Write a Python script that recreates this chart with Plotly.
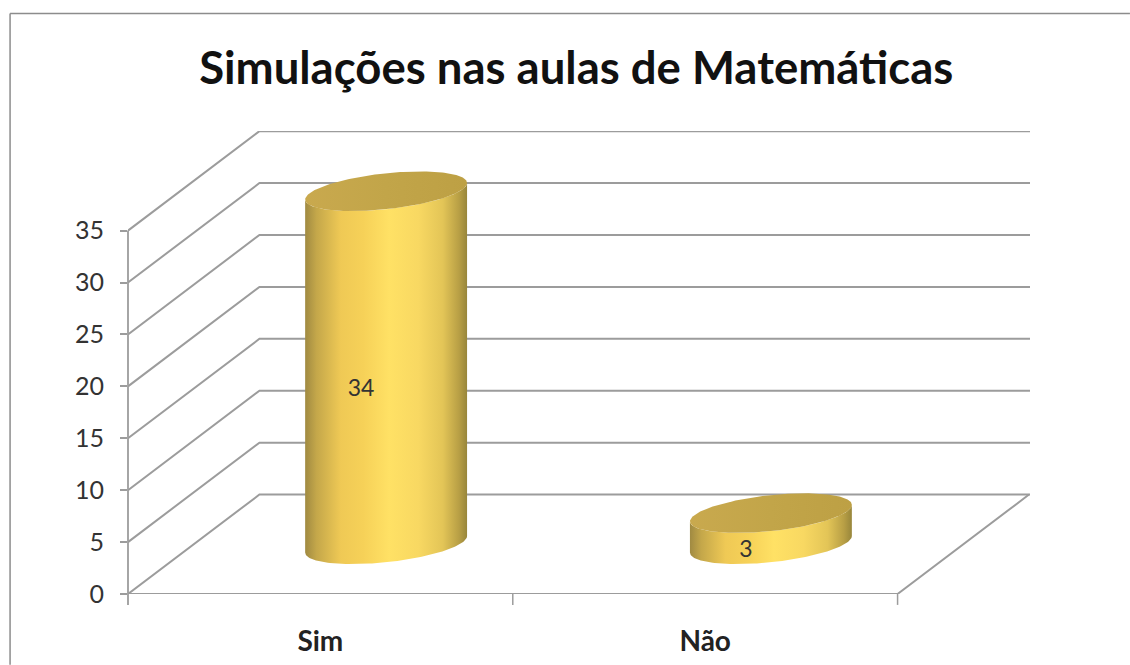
import numpy as np
import plotly.graph_objects as go

categories = ["Sim", "Não"]
values = [34, 3]
y_ticks = [0, 5, 10, 15, 20, 25, 30, 35]
title_text = "Simulações nas aulas de Matemáticas"

W, H = 1130, 665
L, R, T, B = 127.5, 100, 131, 70.7
px_y = (H - T - B) / 44.59
px_x = 385.0
dx = 131.5 / px_x
dy = 99.5 / px_y
x_left, x_right = -0.5, -0.5 + (W - L - R) / px_x
GRID = "#9c9c9c"
FONT = "Lato"


def seg(xs, ys, color=GRID, width=2):
    return go.Scatter(x=xs, y=ys, mode="lines", line=dict(color=color, width=width),
                      cliponaxis=False, hoverinfo="skip", showlegend=False)


fx = lambda px: (px - L) / (W - L - R)
fy = lambda py: (H - B - py) / (H - T - B)
vy = lambda v: v / 44.59
vx = lambda c: (c - x_left) / (x_right - x_left)

fig = go.Figure()
for v in y_ticks:
    fig.add_trace(seg([x_left, x_left + dx, x_right], [v, v + dy, v + dy]))
fig.add_trace(seg([x_left, 1.5, 1.5 + dx], [0, 0, dy]))

t = np.linspace(0, 2 * np.pi, 181)
a, tilt, b = 81 / px_x, 8.3 / px_y, 18 / px_y
body_scale = [[0, "#a08a42"], [0.07, "#c4a74a"], [0.22, "#efc955"], [0.36, "#f6d158"], [0.52, "#ffe165"],
              [0.7, "#f8d862"], [0.85, "#e3c557"], [0.95, "#b89f45"], [1, "#98863b"]]
top_scale = [[0, "#c9a94e"], [0.5, "#c2a549"], [1, "#bda044"]]

for i, v in enumerate(values):
    cx, base = i + dx / 2, dy / 2
    tb = np.linspace(np.pi, 2 * np.pi, 91)
    xb = cx + a * np.cos(tb)
    yb = base + tilt * np.cos(tb) + b * np.sin(tb)
    xt = cx + a * np.cos(tb[::-1])
    yt = base + v + tilt * np.cos(tb[::-1]) + b * np.sin(tb[::-1])
    fig.add_trace(go.Scatter(
        x=np.r_[xb, xt, xb[0]], y=np.r_[yb, yt, yb[0]], mode="lines", fill="toself",
        line=dict(width=0, color="rgba(0,0,0,0)"),
        fillgradient=dict(type="horizontal", colorscale=body_scale),
        cliponaxis=False, hoverinfo="skip", showlegend=False))
    fig.add_trace(go.Scatter(
        x=cx + a * np.cos(t), y=base + v + tilt * np.cos(t) + b * np.sin(t),
        mode="lines", fill="toself", line=dict(width=0, color="rgba(0,0,0,0)"),
        fillgradient=dict(type="horizontal", colorscale=top_scale),
        cliponaxis=False, hoverinfo="skip", showlegend=False))
    fig.add_trace(go.Scatter(
        x=[cx - 0.065], y=[base + v / 2 - 2.2], mode="text", text=[str(v)],
        textfont=dict(family=FONT, size=23, color="#333333"),
        cliponaxis=False, hoverinfo="skip", showlegend=False))

frame_color = "#8c8c8c"
fig.add_shape(type="line", xref="paper", yref="paper", x0=fx(9.5), x1=fx(W), y0=fy(13.5), y1=fy(13.5),
              line=dict(color=frame_color, width=1.5))
fig.add_shape(type="line", xref="paper", yref="paper", x0=fx(9.5), x1=fx(9.5), y0=fy(13.5), y1=fy(H),
              line=dict(color=frame_color, width=1.5))
# value axis line and category boundary ticks
fig.add_shape(type="line", xref="paper", yref="paper", x0=0, x1=0, y0=vy(35), y1=vy(-1.05),
              line=dict(color=GRID, width=1.8))
for c in [0.5, 1.5]:
    fig.add_shape(type="line", xref="paper", yref="paper", x0=vx(c), x1=vx(c), y0=0, y1=vy(-1.05),
                  line=dict(color=GRID, width=1.5))

fig.update_layout(
    width=W, height=H, autosize=False,
    margin=dict(l=L, r=R, t=T, b=B, pad=0, autoexpand=False),
    paper_bgcolor="white", plot_bgcolor="white",
    showlegend=False,
    title=dict(text=f"<b>{title_text}</b>", font=dict(family=FONT, size=45.5, color="#111111"),
               xref="paper", x=fx(576), xanchor="center", yref="container", y=1 - 68 / H, yanchor="middle"),
    xaxis=dict(range=[x_left, x_right], tickmode="array", tickvals=[0, 1], automargin=False,
               ticktext=[f"<b>{c}</b>" for c in categories], ticks="", showgrid=False, zeroline=False,
               showline=False, tickfont=dict(family=FONT, size=28, color="#222222"), ticklabelstandoff=28),
    yaxis=dict(range=[0, 44.59], tickmode="array", tickvals=y_ticks, ticks="outside", ticklen=7, automargin=False,
               tickcolor=GRID, tickwidth=1.5, showgrid=False, zeroline=False, showline=False,
               tickfont=dict(family=FONT, size=25, color="#333333"), ticklabelstandoff=11),
)
fig.write_html("out.html", post_script="document.body.style.margin='0';",
               config={"displayModeBar": False})
